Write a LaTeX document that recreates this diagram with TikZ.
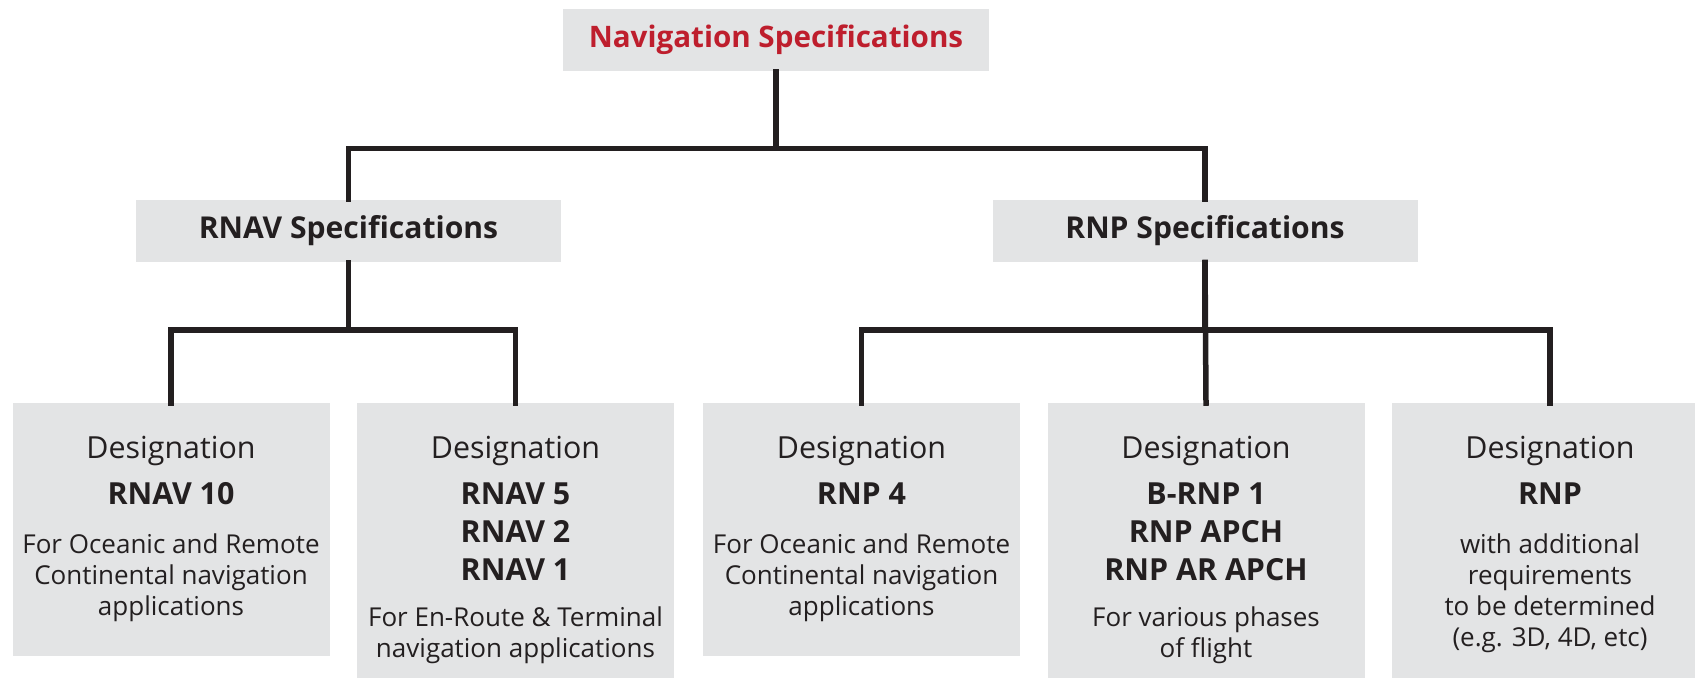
\documentclass[tikz,border=0pt]{standalone}
\usepackage{fontspec}
\setmainfont{Open Sans}
\usepackage{xcolor}
\usepackage{tikz}
\definecolor{boxgray}{HTML}{E3E4E5}
\definecolor{navred}{HTML}{BE1E2D}
\definecolor{inkblack}{HTML}{231F20}
\newcommand{\descsize}{\fontsize{13}{15.5}\selectfont}
\tikzstyle{header} = [rectangle, 
minimum width=212.5pt, 
minimum height=31pt, 
text centered, 
fill=boxgray, 
text=inkblack, 
font=\fontsize{15.05}{18}\selectfont\bfseries]
\tikzstyle{navtitle} = [header, 
minimum width=213pt, 
text=navred, 
font=\fontsize{14.8}{18}\selectfont\bfseries]
\tikzstyle{designation} = [rectangle, 
anchor=north, 
minimum width=158.5pt, 
minimum height=126.5pt, 
fill=boxgray]
\tikzstyle{desc} = [anchor=north, 
inner sep=0pt, 
align=center, 
text=inkblack, 
font=\fontsize{15.2}{15.5}\selectfont]
\tikzstyle{link} = [line width=2.75pt, draw=inkblack, line cap=rect]

\begin{document}
\begin{tikzpicture}[x=0.5pt,y=-0.5pt]
\useasboundingbox (0,0) rectangle (1695,677);
\clip (0,0) rectangle (1695,677);

% Nodes
\node (navspec) [navtitle] at (776,40) {Navigation Specifications};
\node (rnav_spec) [header] at (348.5,231) {RNAV Specifications};
\node (rnp_spec) [header] at (1205,231) {RNP Specifications};

\node (rnav10) [designation] at (171,403) {};
\node (rnav_multi) [designation, minimum height=145pt] at (515.5,403) {};
\node (rnp4) [designation] at (861.5,403) {};
\node (rnp_multi) [designation, minimum height=145pt] at (1206,403) {};
\node (rnp_future) [designation, minimum height=145pt] at (1550,403) {};

\node (rnav10_text) [desc] at (171,436) {Designation\\[7.5pt]\textbf{RNAV 10}\\[9pt]
\descsize For Oceanic and Remote\\\descsize Continental navigation\\\descsize applications};
\node (rnav_multi_text) [desc] at (515.5,436) {Designation\\[7.5pt]\textbf{RNAV 5}\\[3.5pt]\textbf{RNAV 2}\\[3.5pt]\textbf{RNAV 1}\\[7.5pt]
\descsize For En-Route \& Terminal\\\descsize navigation applications};
\node (rnp4_text) [desc] at (861.5,436) {Designation\\[7.5pt]\textbf{RNP 4}\\[9pt]
\descsize For Oceanic and Remote\\\descsize Continental navigation\\\descsize applications};
\node (rnp_multi_text) [desc] at (1206,436) {Designation\\[7.5pt]\textbf{B-RNP 1}\\[3.5pt]\textbf{RNP APCH}\\[3.5pt]\textbf{RNP AR APCH}\\[7.5pt]
\descsize For various phases\\\descsize of flight};
\node (rnp_future_text) [desc] at (1550,436) {Designation\\[7.5pt]\textbf{RNP}\\[9pt]
\descsize with additional\\\descsize requirements\\\descsize to be determined\\\descsize (e.g. 3D, 4D, etc)};

% Lines
\draw [link] (rnav_spec.north) -- ++(0,-51) -| (navspec.south);
\draw [link] (rnp_spec.north) -- ++(0,-51) -| (navspec.south);

\draw [link] (rnav10.north) -- ++(0,-73) -| (rnav_spec.south);
\draw [link] (rnav_multi.north) -- ++(0,-73) -| (rnav_spec.south);

\draw [link] (rnp4.north) -- ++(0,-73) -| (rnp_spec.south);
\draw [link] (rnp_multi.north) -- (rnp_spec.south);
\draw [link] (rnp_future.north) -- ++(0,-73) -| (rnp_spec.south);

\end{tikzpicture}
\end{document}
